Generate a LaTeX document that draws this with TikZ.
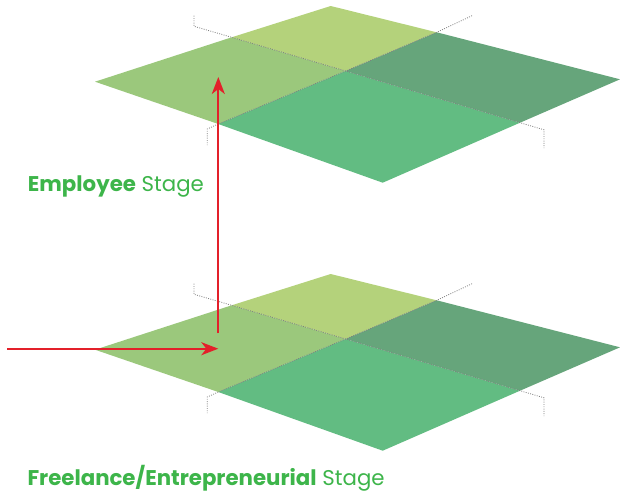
\documentclass[tikz,border=0pt]{standalone}
\usepackage{fontspec}
\setmainfont{Poppins}
\usetikzlibrary{arrows.meta}
\definecolor{qtop}{HTML}{B4D27B}
\definecolor{qleft}{HTML}{9BC87C}
\definecolor{qright}{HTML}{66A57B}
\definecolor{qbottom}{HTML}{62BC82}
\definecolor{stagegreen}{HTML}{3DB54A}
\definecolor{flowred}{HTML}{E3202A}
\tikzset{
  guide/.style={draw=black!50, line width=0.8pt, dash pattern=on 0.9pt off 1.4pt},
  flow/.style={draw=flowred, line width=2.1pt, -{Stealth[length=17pt,width=13pt,inset=5pt]}},
  stagelabel/.style={anchor=base west, inner sep=0pt, text=stagegreen, font=\fontsize{21.3}{24}\selectfont}
}
% one quartered plane, shifted down by #1, coordinates prefixed with #2
\newcommand{\quarterplane}[2]{%
  \begin{scope}[yshift=-#1pt]
    \coordinate (#2T)  at (330.7,6);
    \coordinate (#2L)  at (95,81.7);
    \coordinate (#2B)  at (382.7,182.7);
    \coordinate (#2R)  at (620,79.3);
    \coordinate (#2C)  at (345.7,71);
    \coordinate (#2UL) at (231.7,37.3);
    \coordinate (#2UR) at (436.7,32.3);
    \coordinate (#2LL) at (218.3,124);
    \coordinate (#2LR) at (520,122.7);
    \coordinate (#2g1a) at (194,15.7);
    \coordinate (#2g1b) at (194,26.3);
    \coordinate (#2g1c) at (544,129.8);
    \coordinate (#2g1d) at (544,148);
    \coordinate (#2g2a) at (472,15.7);
    \coordinate (#2g2b) at (207.3,129);
    \coordinate (#2g2c) at (207.3,145);
  \end{scope}
  \fill[qtop]    (#2T) -- (#2UR) -- (#2C) -- (#2UL) -- cycle;
  \fill[qleft]   (#2UL) -- (#2C) -- (#2LL) -- (#2L) -- cycle;
  \fill[qright]  (#2UR) -- (#2R) -- (#2LR) -- (#2C) -- cycle;
  \fill[qbottom] (#2C) -- (#2LR) -- (#2B) -- (#2LL) -- cycle;
  \draw[guide] (#2g1a) -- (#2g1b) -- (#2UL) -- (#2C) -- (#2LR) -- (#2g1c) -- (#2g1d);
  \draw[guide] (#2g2a) -- (#2UR) -- (#2C) -- (#2LL) -- (#2g2b) -- (#2g2c);
}
\begin{document}
\begin{tikzpicture}[x=1pt,y=-1pt]
  \useasboundingbox (0,0) rectangle (620,493);
  \fill[white] (0,0) rectangle (620,493);

  \quarterplane{0}{up}
  \quarterplane{268}{lo}

  % labels
  \node[stagelabel] (emp) at (27.7,191) {\textbf{Employee} Stage};
  \node[stagelabel] (free) at (27.3,485.7) {\textbf{Freelance/Entrepreneurial} Stage};

  % path between the stages
  \coordinate (entry)  at (7,348.7);
  \coordinate (hub)    at (218.3,348.7);
  \coordinate (rise)   at (218.3,333.3);
  \coordinate (target) at (218.3,77);
  \draw[flow] (entry) -- (hub);
  \draw[flow] (rise) -- (target);
\end{tikzpicture}
\end{document}
